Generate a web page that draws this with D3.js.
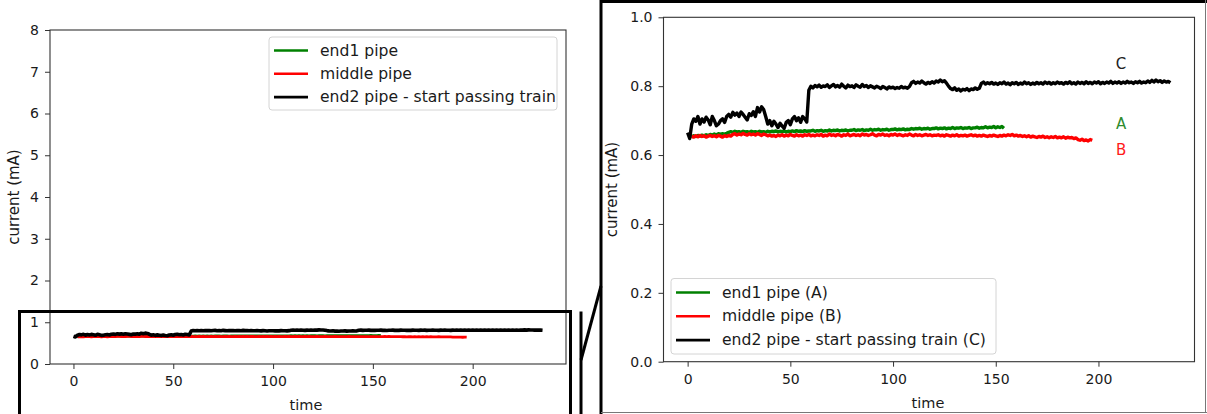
<!DOCTYPE html>
<html>
<head>
<meta charset="utf-8">
<script src="https://cdn.jsdelivr.net/npm/d3@7"></script>
<style>
  html, body { margin: 0; padding: 0; background: #fff; }
  svg { display: block; font-family: "DejaVu Sans", sans-serif; }
</style>
</head>
<body>
<svg id="chart" width="1207" height="414"></svg>
<script>
// Current readings (mA), one sample per time unit
const end1Start = 2;
const end1Pipe = [
  0.652,0.656,0.654,0.657,0.655,0.658,0.656,0.659,0.657,0.660,0.658,0.661,0.659,0.662,0.660,0.662,0.661,0.663,
  0.666,0.668,0.666,0.669,0.667,0.668,0.666,0.669,0.667,0.668,0.666,0.669,0.667,0.668,0.666,0.669,0.667,0.668,0.666,0.669,
  0.667,0.669,0.668,0.670,0.667,0.669,0.668,0.670,0.667,0.669,0.668,0.670,0.668,0.671,0.669,0.670,0.668,0.671,0.669,0.670,
  0.670,0.672,0.669,0.671,0.670,0.672,0.669,0.671,0.670,0.673,0.670,0.672,0.671,0.673,0.670,0.672,0.671,0.673,0.670,0.672,
  0.672,0.674,0.671,0.673,0.672,0.674,0.671,0.673,0.672,0.675,0.672,0.674,0.673,0.675,0.672,0.674,0.673,0.675,0.672,0.674,
  0.674,0.676,0.673,0.675,0.674,0.676,0.673,0.675,0.674,0.677,0.675,0.677,0.676,0.678,0.675,0.677,0.676,0.678,0.675,0.677,
  0.677,0.679,0.676,0.678,0.677,0.679,0.676,0.678,0.677,0.680,0.677,0.679,0.678,0.680,0.677,0.679,0.678,0.680,0.677,0.679,
  0.679,0.681,0.678,0.680,0.679,0.682,0.679,0.681,0.680,0.683,0.679,0.682,0.680,0.683,0.678
];

const middleStart = 2;
const middlePipe = [
  0.655,0.652,0.656,0.653,0.657,0.654,0.656,0.652,0.655,0.657,0.654,0.656,0.653,0.657,0.655,0.652,0.656,0.654,0.657,0.655,
  0.660,0.662,0.658,0.661,0.659,0.663,0.660,0.658,0.662,0.659,0.661,0.658,0.662,0.660,0.657,0.661,0.659,0.656,0.658,0.655,
  0.657,0.654,0.658,0.656,0.659,0.655,0.658,0.656,0.660,0.657,0.655,0.659,0.656,0.658,0.655,0.659,0.657,0.660,0.656,0.658,
  0.656,0.659,0.657,0.660,0.655,0.658,0.656,0.661,0.657,0.659,0.656,0.660,0.658,0.655,0.659,0.657,0.661,0.656,0.658,0.660,
  0.657,0.659,0.656,0.661,0.658,0.660,0.657,0.659,0.662,0.658,0.656,0.660,0.658,0.661,0.657,0.659,0.656,0.660,0.658,0.661,
  0.657,0.660,0.658,0.656,0.659,0.657,0.661,0.658,0.656,0.660,0.657,0.659,0.656,0.658,0.660,0.657,0.659,0.656,0.658,0.657,
  0.659,0.656,0.658,0.655,0.659,0.657,0.655,0.658,0.656,0.659,0.655,0.657,0.656,0.658,0.655,0.657,0.659,0.656,0.658,0.655,
  0.657,0.655,0.658,0.656,0.654,0.657,0.655,0.658,0.656,0.654,0.657,0.655,0.658,0.656,0.659,0.657,0.660,0.656,0.658,0.655,
  0.657,0.654,0.656,0.653,0.656,0.652,0.655,0.653,0.651,0.654,0.652,0.655,0.651,0.653,0.650,0.653,0.651,0.654,0.650,0.652,
  0.650,0.653,0.649,0.652,0.650,0.651,0.648,0.650,0.645,0.643,0.646,0.642,0.644,0.641,0.645,0.643
];

const end2Start = 0;
const end2Pipe = [
  0.665,0.648,0.690,0.705,0.698,0.712,0.690,0.705,0.696,0.710,
  0.702,0.688,0.712,0.700,0.685,0.690,0.700,0.705,0.695,0.712,
  0.718,0.710,0.724,0.716,0.722,0.712,0.725,0.718,0.710,0.702,
  0.720,0.715,0.726,0.712,0.738,0.725,0.740,0.732,0.712,0.690,
  0.700,0.685,0.698,0.690,0.680,0.692,0.684,0.678,0.695,0.700,
  0.688,0.705,0.712,0.700,0.708,0.695,0.712,0.705,0.696,0.788,
  0.800,0.795,0.802,0.798,0.803,0.797,0.801,0.799,0.804,0.796,
  0.801,0.805,0.798,0.802,0.797,0.806,0.800,0.795,0.803,0.799,
  0.801,0.796,0.804,0.800,0.797,0.805,0.799,0.802,0.796,0.801,
  0.798,0.795,0.800,0.797,0.793,0.799,0.796,0.792,0.798,0.795,
  0.797,0.793,0.796,0.794,0.799,0.795,0.797,0.794,0.799,0.810,
  0.814,0.808,0.812,0.809,0.815,0.810,0.806,0.811,0.808,0.813,
  0.809,0.815,0.812,0.818,0.813,0.816,0.809,0.800,0.793,0.790,
  0.795,0.788,0.792,0.786,0.791,0.789,0.793,0.787,0.792,0.790,
  0.795,0.791,0.794,0.808,0.812,0.806,0.810,0.807,0.811,0.806,
  0.809,0.805,0.810,0.807,0.812,0.806,0.809,0.804,0.810,0.807,
  0.811,0.805,0.809,0.806,0.812,0.807,0.810,0.805,0.809,0.806,
  0.811,0.807,0.810,0.806,0.812,0.808,0.811,0.806,0.810,0.807,
  0.812,0.808,0.810,0.806,0.811,0.808,0.813,0.807,0.810,0.806,
  0.812,0.808,0.811,0.807,0.813,0.808,0.811,0.807,0.812,0.809,
  0.813,0.807,0.811,0.808,0.812,0.809,0.814,0.808,0.812,0.809,
  0.813,0.808,0.812,0.809,0.814,0.810,0.812,0.808,0.813,0.810,
  0.814,0.809,0.812,0.810,0.815,0.811,0.817,0.812,0.818,0.813,
  0.816,0.811,0.815,0.812,0.814,0.810
];

const xTicks = [0, 50, 100, 150, 200];
const yTicksFull = [0, 1, 2, 3, 4, 5, 6, 7, 8];
const yTicksZoom = [0.0, 0.2, 0.4, 0.6, 0.8, 1.0];
const legendFull = ["end1 pipe", "middle pipe", "end2 pipe - start passing train"];
const legendZoom = ["end1 pipe (A)", "middle pipe (B)", "end2 pipe - start passing train (C)"];
const tagLetters = ["A", "B", "C"];
const tagValues = [0.690, 0.614, 0.865];
const tagTime = 211;
const colors = ["#008000", "#ff0000", "#000000"];

const series = [
  { start: end1Start, values: end1Pipe },
  { start: middleStart, values: middlePipe },
  { start: end2Start, values: end2Pipe }
].map(s => s.values.map((v, i) => ({ t: s.start + i, v })));

const svg = d3.select("#chart");
const axisColor = "#333";
const textColor = "#1a1a1a";

function drawPanel(cfg) {
  const x = d3.scaleLinear().domain([-11.75, 246.75]).range([cfg.left, cfg.right]);
  const y = d3.scaleLinear().domain(cfg.yDomain).range([cfg.bottom, cfg.top]);
  const g = svg.append("g");

  // data lines
  const line = d3.line().x(d => x(d.t)).y(d => y(d.v));
  series.forEach((s, i) => {
    g.append("path")
      .datum(s)
      .attr("d", line)
      .attr("fill", "none")
      .attr("stroke", colors[i])
      .attr("stroke-width", cfg.lineWidth[i])
      .attr("stroke-linejoin", "round");
  });

  // axes
  const xAxis = d3.axisBottom(x).tickValues(xTicks).tickFormat(d3.format("d")).tickSize(5).tickPadding(4);
  const yAxis = d3.axisLeft(y).tickValues(cfg.yTicks).tickFormat(cfg.yFormat).tickSize(5).tickPadding(6);
  const gx = g.append("g").attr("transform", `translate(0,${cfg.bottom})`).call(xAxis);
  const gy = g.append("g").attr("transform", `translate(${cfg.left},0)`).call(yAxis);
  [gx, gy].forEach(a => {
    a.select(".domain").remove();
    a.selectAll(".tick line").attr("stroke", axisColor).attr("stroke-width", 1);
    a.selectAll(".tick text").attr("fill", textColor).style("font-size", "14px").style("font-family", "DejaVu Sans");
  });
  gx.selectAll(".tick text").attr("dy", "0.95em");

  // frame
  g.append("rect")
    .attr("x", cfg.left).attr("y", cfg.top)
    .attr("width", cfg.right - cfg.left).attr("height", cfg.bottom - cfg.top)
    .attr("fill", "none").attr("stroke", axisColor).attr("stroke-width", 1.1);

  // axis titles
  g.append("text")
    .attr("x", (cfg.left + cfg.right) / 2 + cfg.xLabelShift).attr("y", cfg.xLabelY)
    .attr("text-anchor", "middle").attr("fill", textColor)
    .style("font-size", "14.5px").text("time");
  g.append("text")
    .attr("transform", `translate(${cfg.yLabelX},${(cfg.top + cfg.bottom) / 2}) rotate(-90)`)
    .attr("text-anchor", "middle").attr("dominant-baseline", "central").attr("fill", textColor)
    .style("font-size", "15px").text("current (mA)");

  // legend
  const L = cfg.legend;
  const lg = g.append("g");
  lg.append("rect")
    .attr("x", L.x).attr("y", L.y).attr("width", L.w).attr("height", L.h)
    .attr("rx", 3).attr("fill", "#fff").attr("fill-opacity", 0.8)
    .attr("stroke", "#d4d4d4").attr("stroke-width", 1);
  L.labels.forEach((lab, i) => {
    const cy = L.y + L.firstRow + i * L.rowGap;
    lg.append("line")
      .attr("x1", L.x + 5).attr("x2", L.x + 39).attr("y1", cy).attr("y2", cy)
      .attr("stroke", colors[i]).attr("stroke-width", 2.6);
    lg.append("text")
      .attr("x", L.x + 51).attr("y", cy)
      .attr("dominant-baseline", "central").attr("fill", textColor)
      .style("font-size", "15.6px").text(lab);
  });

  return { x, y, g };
}

// full-scale view
drawPanel({
  left: 50, right: 566, top: 30, bottom: 364,
  yDomain: [0, 8], yTicks: yTicksFull, yFormat: d3.format("d"),
  lineWidth: [2.8, 2.8, 3.6], xLabelY: 410, xLabelShift: -2, yLabelX: 14,
  legend: { x: 269, y: 37, w: 288, h: 73, firstRow: 13.5, rowGap: 23.3, labels: legendFull }
});

// zoomed view
const zoomPanel = drawPanel({
  left: 663.5, right: 1194.5, top: 17.3, bottom: 361.7,
  yDomain: [0, 1], yTicks: yTicksZoom, yFormat: d3.format(".1f"),
  lineWidth: [3.4, 3.4, 3.4], xLabelY: 408, xLabelShift: -1, yLabelX: 611.5,
  legend: { x: 671, y: 278.5, w: 325, h: 75.5, firstRow: 14, rowGap: 23.8, labels: legendZoom }
});

// series tags in the zoomed view
tagLetters.forEach((t, i) => {
  zoomPanel.g.append("text")
    .attr("x", zoomPanel.x(tagTime)).attr("y", zoomPanel.y(tagValues[i]))
    .attr("text-anchor", "middle").attr("dominant-baseline", "central")
    .attr("fill", i === 0 ? "#2e8b2e" : i === 1 ? "#ff1a1a" : "#222")
    .style("font-size", "15px").text(t);
});

// highlight box around the low range and its connector to the zoomed view
const deco = svg.append("g").attr("fill", "none").attr("stroke", "#000").attr("stroke-width", 3);
deco.append("rect").attr("x", 19.5).attr("y", 311.5).attr("width", 551).attr("height", 120);
deco.append("line").attr("x1", 581).attr("x2", 581).attr("y1", 311.5).attr("y2", 416);
deco.append("line").attr("x1", 581).attr("y1", 360).attr("x2", 601).attr("y2", 286);
deco.append("line").attr("x1", 601).attr("x2", 601).attr("y1", 0).attr("y2", 416);
deco.append("line").attr("x1", 601).attr("x2", 1210).attr("y1", 1.5).attr("y2", 1.5);
svg.append("line").attr("x1", 601).attr("x2", 1207).attr("y1", 412.5).attr("y2", 412.5)
  .attr("stroke", "#777").attr("stroke-width", 1);
svg.append("line").attr("x1", 1205.5).attr("x2", 1205.5).attr("y1", 0).attr("y2", 413)
  .attr("stroke", "#777").attr("stroke-width", 1);
</script>
</body>
</html>
